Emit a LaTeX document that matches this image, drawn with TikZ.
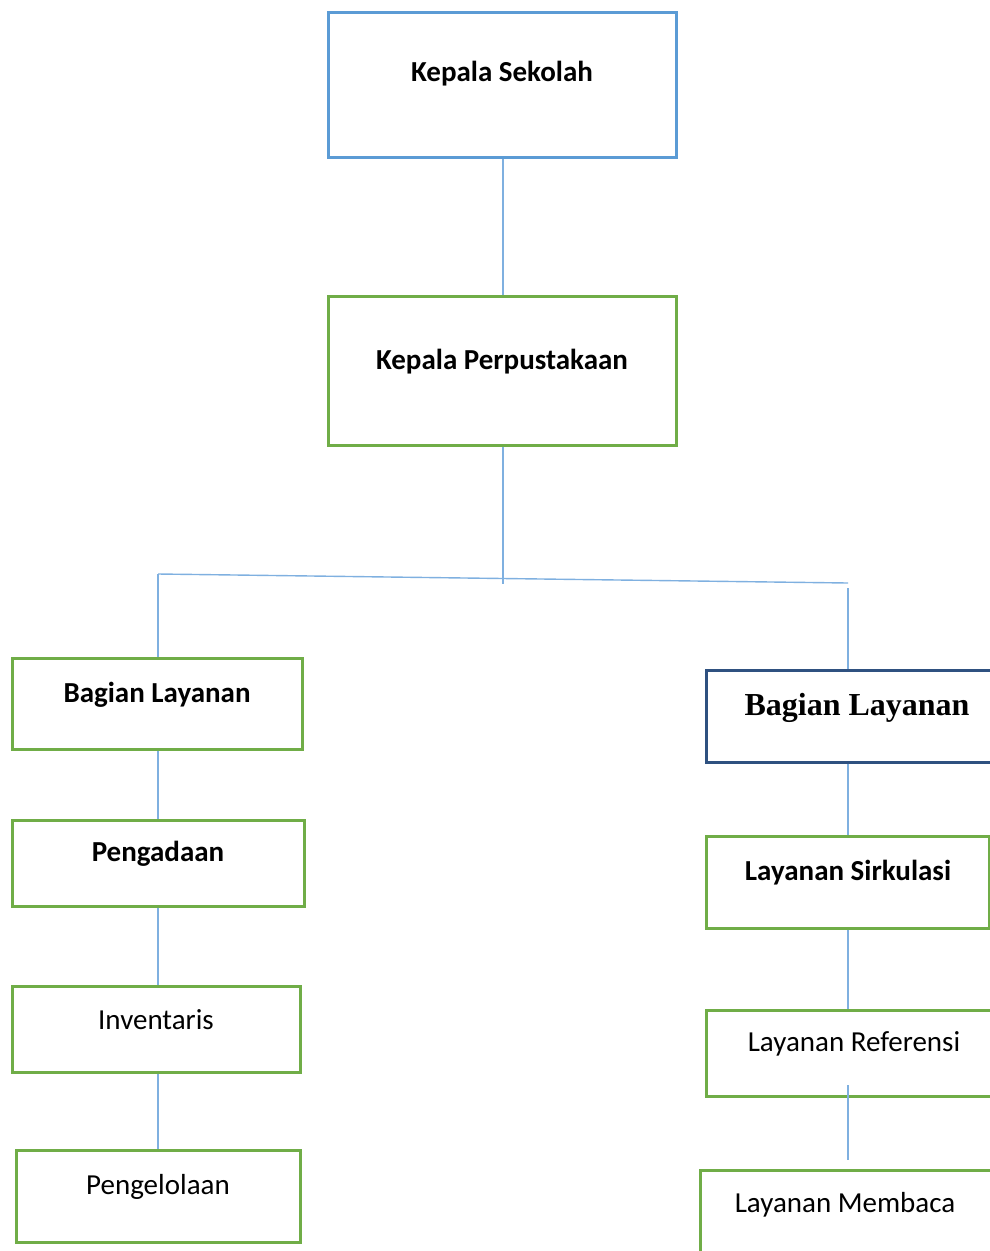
\documentclass[tikz,border=0pt]{standalone}
\usepackage{fontspec}
\setmainfont{Carlito}
\newfontfamily\timesfont{Liberation Serif}
\definecolor{boxblue}{HTML}{5B9BD5}
\definecolor{boxgreen}{HTML}{70AD47}
\definecolor{boxnavy}{HTML}{2F5180}
\definecolor{linkblue}{HTML}{7FB0E0}
\begin{document}
\begin{tikzpicture}[x=1pt,y=-1pt,
  box/.style={draw=boxgreen,line width=3pt,rectangle,inner sep=0pt},
  txt/.style={font=\fontsize{29}{34}\selectfont,inner sep=0pt,anchor=center},
  btxt/.style={txt,font=\fontsize{29}{34}\selectfont\bfseries},
  link/.style={draw=linkblue,line width=1.4pt}]
\useasboundingbox (0,0) rectangle (990,1251);
\clip (0,0) rectangle (990,1251);
% boxes
\node[box,draw=boxblue,minimum width=348pt,minimum height=145pt] (ks) at (502,84.5) {};
\node[btxt] (tks) at (502,74) {Kepala Sekolah};
\node[box,minimum width=348pt,minimum height=149pt] (kp) at (502,370.5) {};
\node[btxt] (tkp) at (502,362) {Kepala Perpustakaan};
% left column
\node[box,minimum width=290pt,minimum height=91pt] (bl) at (157,703.5) {};
\node[btxt] (tbl) at (157,695) {Bagian Layanan};
\node[box,minimum width=292pt,minimum height=86pt] (pg) at (158,863) {};
\node[btxt] (tpg) at (158,854) {Pengadaan};
\node[box,minimum width=288pt,minimum height=86pt] (iv) at (156,1029) {};
\node[txt] (tiv) at (156,1020) {Inventaris};
\node[box,minimum width=284pt,minimum height=92pt] (pl) at (158,1196) {};
\node[txt] (tpl) at (158,1187) {Pengelolaan};
% right column
\node[box,draw=boxnavy,minimum width=292pt,minimum height=92pt] (br) at (852,716) {};
\node[font=\fontsize{32}{38}\selectfont\timesfont\bfseries,inner sep=0pt] (tbr) at (857,708) {Bagian Layanan};
\node[box,minimum width=283pt,minimum height=92pt] (ls) at (847.5,882) {};
\node[btxt] (tls) at (848,873) {Layanan Sirkulasi};
\node[box,minimum width=290pt,minimum height=86pt] (lr) at (851,1053) {};
\node[txt] (tlr) at (854,1044) {Layanan Referensi};
\node[box,minimum width=300pt,minimum height=100pt] (lm) at (850,1220) {};
\node[txt] (tlm) at (845,1205) {Layanan Membaca};
% connectors
\coordinate (hl) at (158,574);
\coordinate (hr) at (848,583);
\coordinate (hm) at (503,584);
\coordinate (vr) at (848,588);
\coordinate (lrin) at (848,1085);
\coordinate (lmtop) at (848,1160);
\draw[link] (ks.south -| 503,0) -- (kp.north -| 503,0);
\draw[link] (kp.south -| 503,0) -- (hm);
\draw[link] (hl) -- (hr);
\draw[link] (hl) -- (bl.north -| hl);
\draw[link] (vr) -- (br.north -| vr);
\draw[link] (bl.south -| hl) -- (pg.north -| hl);
\draw[link] (pg.south -| hl) -- (iv.north -| hl);
\draw[link] (iv.south -| hl) -- (pl.north -| hl);
\draw[link] (br.south -| vr) -- (ls.north -| vr);
\draw[link] (ls.south -| vr) -- (lr.north -| vr);
\draw[link] (lrin) -- (lmtop);
\end{tikzpicture}
\end{document}
